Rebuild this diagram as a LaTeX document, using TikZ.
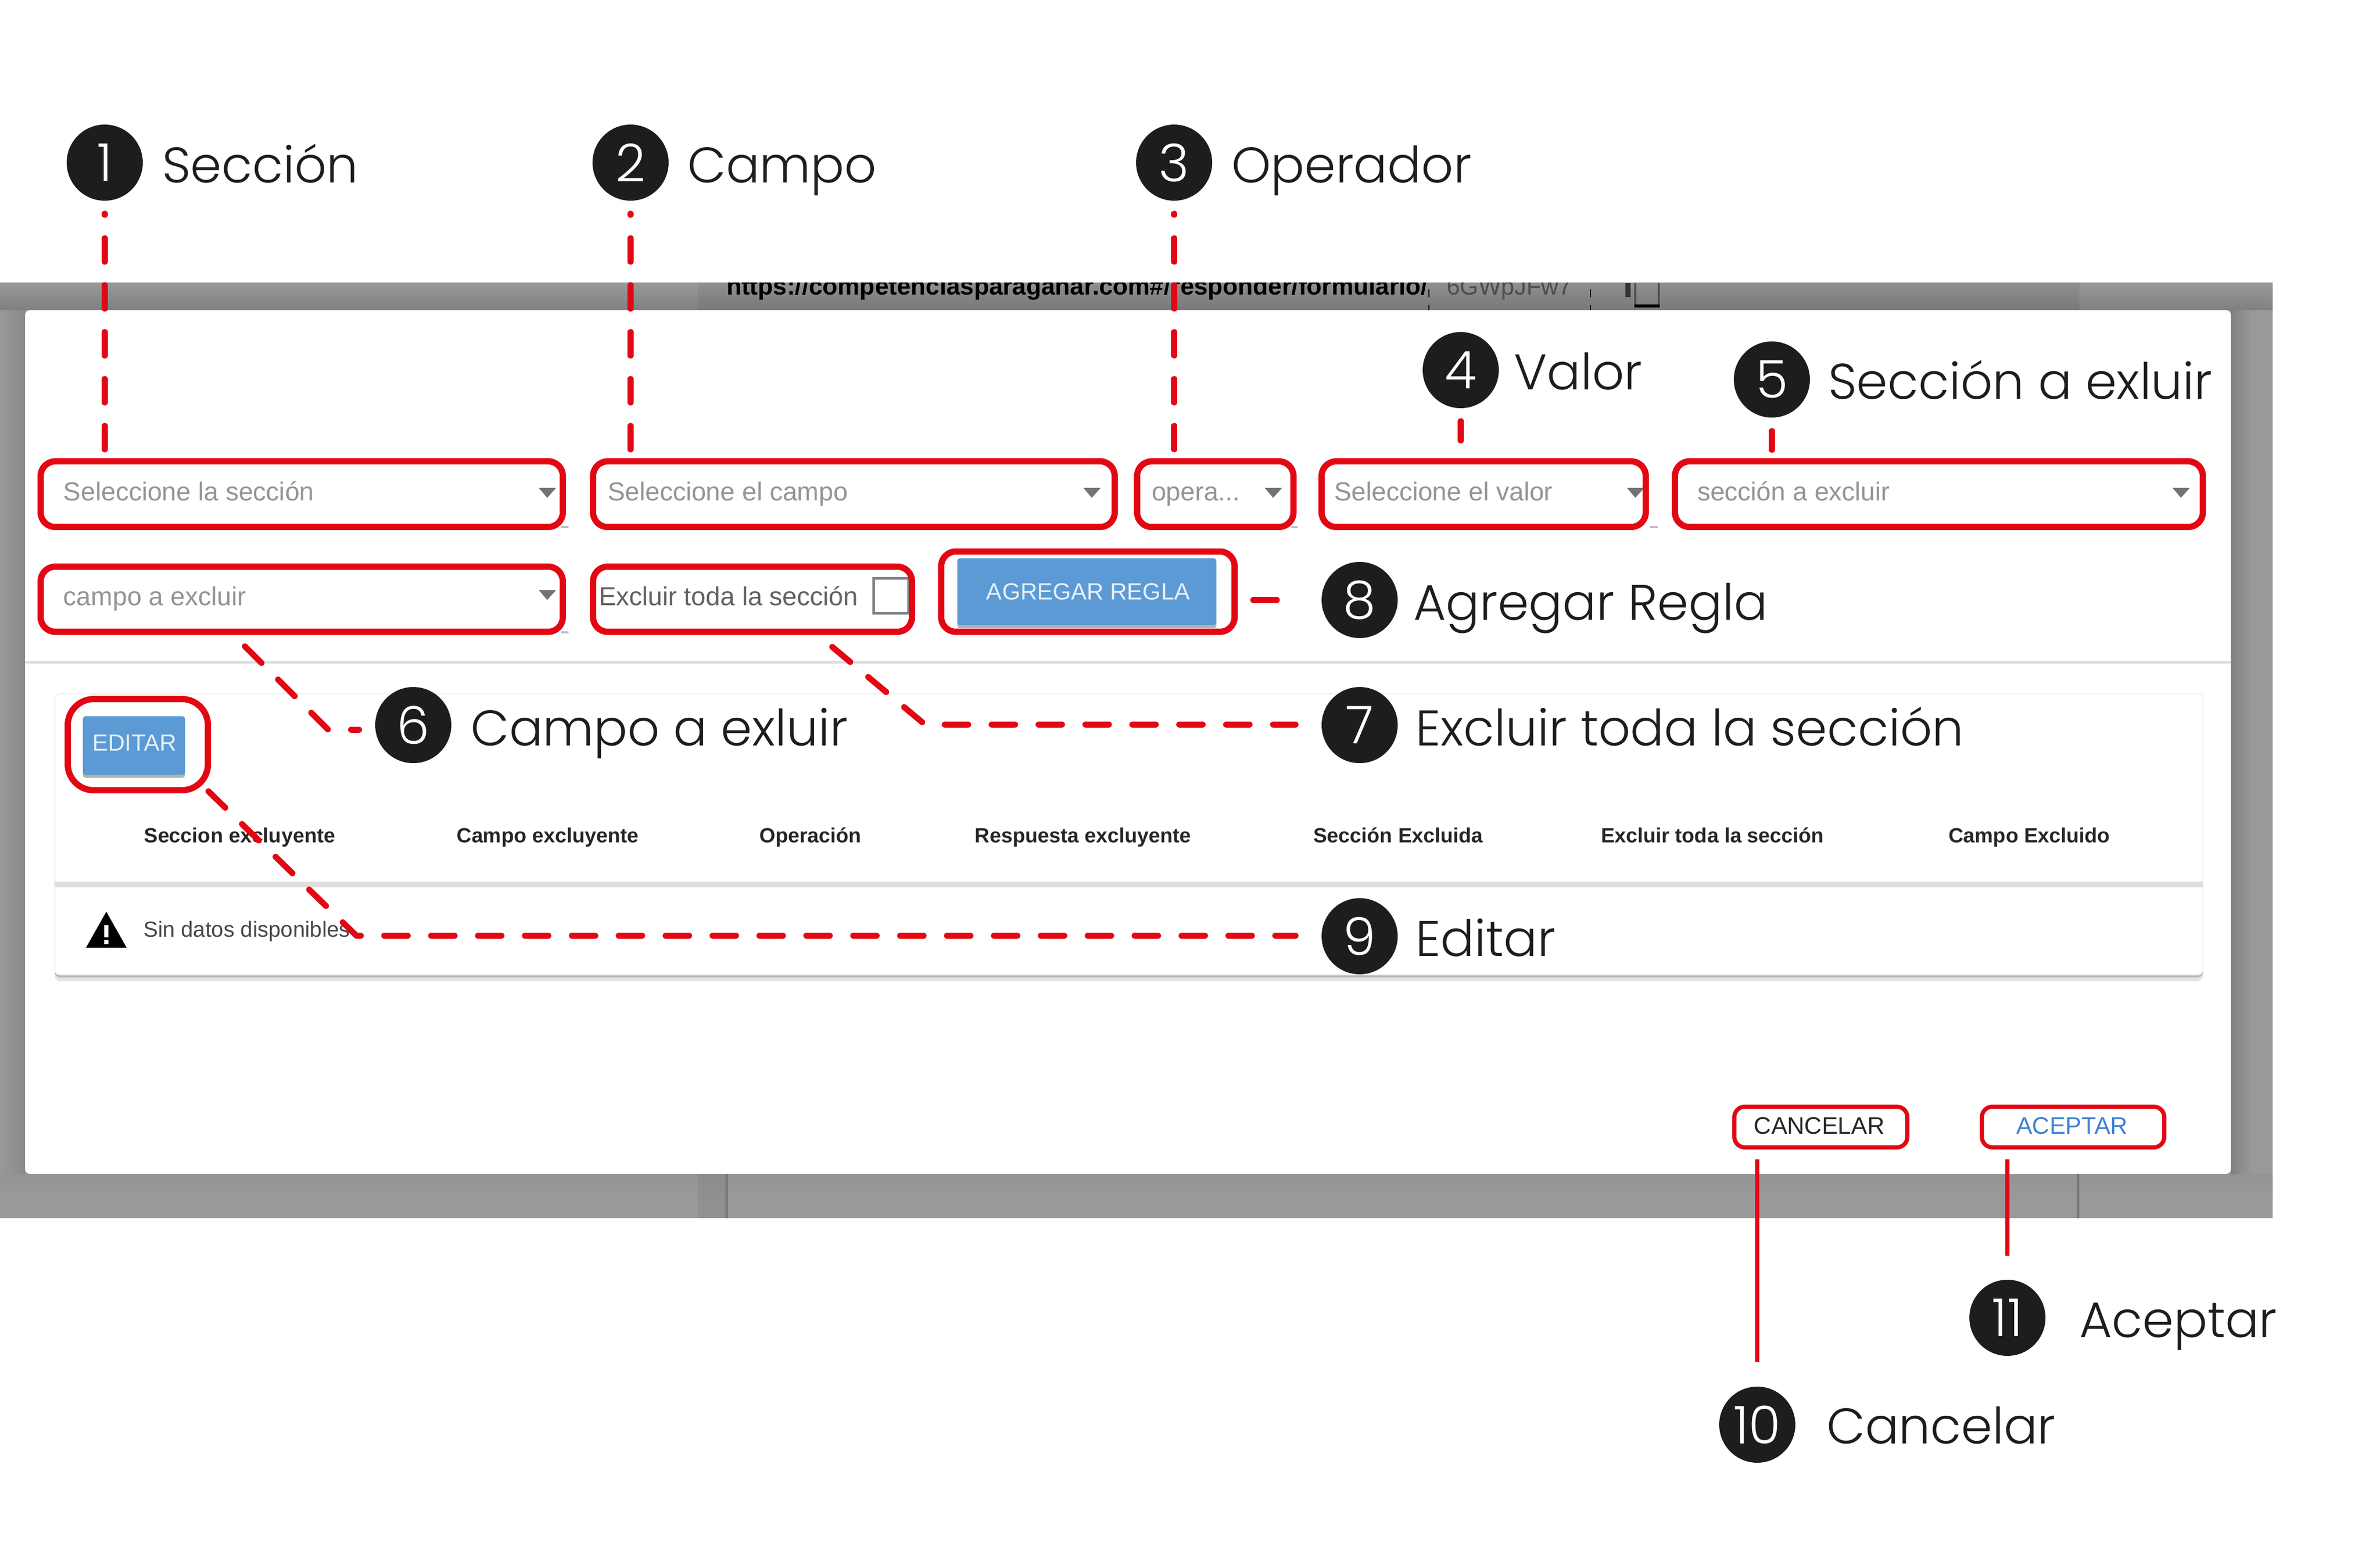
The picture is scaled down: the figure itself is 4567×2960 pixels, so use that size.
\documentclass[tikz,border=0pt]{standalone}
\usepackage{fontspec}
\setmainfont{Liberation Sans}
\newfontfamily\labfont{Poppins Light}
\usetikzlibrary{calc}

\definecolor{callred}{HTML}{E30613}
\definecolor{numdark}{HTML}{1D1D1B}
\definecolor{btnblue}{HTML}{5B9AD4}
\definecolor{linkblue}{HTML}{3C82D2}
\definecolor{backgrey}{HTML}{999999}

\tikzset{
  field/.style 2 args={draw=callred,line width=1.2pt,rounded corners=2.8pt,minimum width=#1pt,minimum height=#2pt,inner sep=0pt},
  smallfield/.style 2 args={draw=callred,line width=0.8pt,rounded corners=2pt,minimum width=#1pt,minimum height=#2pt,inner sep=0pt},
  lead/.style={draw=callred,line width=1.15pt,line cap=round,line join=round,dash pattern=on 4.5pt off 4.5pt},
  solidlead/.style={draw=callred,line width=0.8pt},
  num/.style={circle,fill=numdark,text=white,minimum size=14.6pt,inner sep=0pt,outer sep=0pt,font=\labfont\fontsize{10}{12}\selectfont},
  lab/.style={anchor=base west,inner sep=0pt,text=numdark,font=\labfont\fontsize{9.6}{12}\selectfont},
  hint/.style={anchor=base west,inner sep=0pt,text=black!42,font=\fontsize{5}{6}\selectfont},
  hdr/.style={anchor=base,inner sep=0pt,text=black!85,font=\bfseries\fontsize{3.95}{5}\selectfont},
  btntext/.style={inner sep=0pt,text=white!85!btnblue,font=\fontsize{4.5}{6}\selectfont},
  droparrow/.style={fill=black!55}
}

\begin{document}
\begin{tikzpicture}[x=0.1pt,y=-0.1pt]
  \useasboundingbox (0,0) rectangle (4567,2960);

  \fill[backgrey] (0,543) rectangle (4361,2337);
  \shade[top color=black!42,bottom color=backgrey] (0,2252) rectangle (4361,2295);
  \shade[left color=backgrey,right color=black!46] (0,595) rectangle (48,2252);
  \shade[left color=black!50,right color=backgrey] (4281,595) rectangle (4320,2252);
  \shade[top color=backgrey,bottom color=black!50] (0,543) rectangle (4361,595);

  \fill[black,opacity=0.06] (1339,543) rectangle (3990,595);
  \fill[black,opacity=0.06] (1339,2252) rectangle (1392,2337);
  \fill[black,opacity=0.2] (1392,2252) rectangle (1397,2337);
  \fill[black,opacity=0.2] (3985,2252) rectangle (3990,2337);

  \begin{scope}
    \clip (0,543) rectangle (4361,596);
    \draw (1392,566) node[anchor=base west,inner sep=0pt,font=\bfseries\fontsize{4.75}{6}\selectfont] (url) {https://competenciasparaganar.com\#/responder/formulario/};
    \draw (2774,566) node[anchor=base west,inner sep=0pt,text=black!70,font=\fontsize{4.6}{6}\selectfont] (token) {6GWpJFw7};
    \draw[black,line width=0.2pt,dash pattern=on 1.5pt off 1.5pt] (2742,555) -- (2742,596);
    \draw[black,line width=0.2pt,dash pattern=on 1.5pt off 1.5pt] (3052,555) -- (3052,596);
    \draw[black!80,line width=1pt] (3124,543) -- (3124,570);
    \draw[black!70,line width=0.4pt] (3138,543) -- (3138,588);
    \draw[black!70,line width=0.4pt] (3183,543) -- (3183,588);
    \fill[black] (3136,584) rectangle (3185,590);
  \end{scope}

  \fill[white,rounded corners=1pt] (48,595) rectangle (4281,2252);
  \fill[black!13] (48,1268) rectangle (4281,1273);

  \fill[black!10,rounded corners=1pt] (105,1345) rectangle (4227,1882);
  \fill[black!28,rounded corners=1pt] (105,1340) rectangle (4227,1875);
  \fill[white,draw=black!6,line width=0.2pt,rounded corners=1pt] (105,1331) rectangle (4227,1870);
  \fill[black!13] (105,1691) rectangle (4227,1702);

  \fill[black!25] (1077,1009) rectangle (1091,1013);
  \fill[black!25] (1077,1211) rectangle (1091,1215);
  \fill[black!25] (2478,1009) rectangle (2490,1013);
  \fill[black!25] (3166,1009) rectangle (3181,1013);

  \draw (120,961) node[hint] (hsec) {Seleccione la sección};
  \draw (1164,961) node[hint] (hcam) {Seleccione el campo};
  \draw (2208,961) node[hint] (hope) {opera...};
  \draw (2558,961) node[hint] (hval) {Seleccione el valor};
  \draw (3255,961) node[hint] (hsex) {sección a excluir};
  \draw (120,1162) node[hint] (hcex) {campo a excluir};
  \draw (1147,1162) node[hint,text=black!62] (hexc) {Excluir toda la sección};

  \fill[droparrow] (1034,936) -- (1067,936) -- (1050,955) -- cycle;
  \fill[droparrow] (2079,936) -- (2112,936) -- (2095,955) -- cycle;
  \fill[droparrow] (2427,936) -- (2460,936) -- (2443,955) -- cycle;
  \fill[droparrow] (3122,936) -- (3155,936) -- (3138,955) -- cycle;
  \fill[droparrow] (4169,936) -- (4202,936) -- (4185,955) -- cycle;
  \fill[droparrow] (1034,1132) -- (1067,1132) -- (1050,1151) -- cycle;
  \draw[black!50,line width=0.5pt] (1676,1110) rectangle (1743,1177);

  \fill[black!30,rounded corners=0.5pt] (1837,1075) rectangle (2334,1205);
  \fill[btnblue,rounded corners=0.5pt] (1837,1071) rectangle (2334,1199);
  \draw (2088,1135) node[btntext] (agrtext) {AGREGAR REGLA};
  \fill[black!30,rounded corners=0.5pt] (159,1378) rectangle (355,1492);
  \fill[btnblue,rounded corners=0.5pt] (159,1374) rectangle (355,1486);
  \draw (258,1425) node[btntext] (editext) {EDITAR};

  \draw (460,1616) node[hdr] (h1) {Seccion excluyente};
  \draw (1051,1616) node[hdr] (h2) {Campo excluyente};
  \draw (1555,1616) node[hdr] (h3) {Operación};
  \draw (2078,1616) node[hdr] (h4) {Respuesta excluyente};
  \draw (2683,1616) node[hdr] (h5) {Sección Excluida};
  \draw (3286,1616) node[hdr] (h6) {Excluir toda la sección};
  \draw (3894,1616) node[hdr] (h7) {Campo Excluido};

  \fill[black] (204,1749) -- (243,1818) -- (165,1818) -- cycle;
  \fill[white] (200,1775) rectangle (208,1798);
  \fill[white] (200,1803) rectangle (208,1811);
  \draw (273,1797) node[hint,text=black!72,font=\fontsize{4.2}{5}\selectfont] (nodata) {Sin datos disponibles};

  \draw (3491,2160) node[inner sep=0pt,text=black!85,font=\fontsize{4.6}{6}\selectfont] (cantext) {CANCELAR};
  \draw (3976,2160) node[inner sep=0pt,text=linkblue,font=\fontsize{4.6}{6}\selectfont] (acetext) {ACEPTAR};

  \draw (579,948) node[field={100.2}{12.6}] (sec) {};
  \draw (1638.5,948) node[field={100.1}{12.6}] (cam) {};
  \draw (2332,948) node[field={30}{12.6}] (ope) {};
  \draw (2847,948) node[field={62.2}{12.6}] (val) {};
  \draw (3720.5,948) node[field={101.3}{12.6}] (sex) {};
  \draw (579,1149.5) node[field={100.2}{12.5}] (cex) {};
  \draw (1444,1149.5) node[field={61.2}{12.5}] (exc) {};
  \draw (2087.5,1135) node[field={56.3}{15.4}] (agr) {};
  \draw (264.5,1428.5) node[field={26.9}{17.5},rounded corners=5pt] (edi) {};
  \draw (3494,2162) node[smallfield={33.2}{7.8}] (can) {};
  \draw (3978,2162) node[smallfield={35}{7.8}] (ace) {};

  \draw (201,312) node[num] (n1) {1};
  \draw (1210,312) node[num] (n2) {2};
  \draw (2253,312) node[num] (n3) {3};
  \draw (2803,710) node[num] (n4) {4};
  \draw (3400,728) node[num] (n5) {5};
  \draw (793,1391) node[num] (n6) {6};
  \draw (2609,1391) node[num] (n7) {7};
  \draw (2609,1151) node[num] (n8) {8};
  \draw (2609,1796) node[num] (n9) {9};
  \draw (3372,2733) node[num] (n10) {10};
  \draw (3852,2528) node[num] (n11) {11};

  \draw (309,351) node[lab] (t1) {Sección};
  \draw (1317,351) node[lab] (t2) {Campo};
  \draw (2361,351) node[lab] (t3) {Operador};
  \draw (2903,748) node[lab] (t4) {Valor};
  \draw (3506,766) node[lab] (t5) {Sección a exluir};
  \draw (901,1430) node[lab] (t6) {Campo a exluir};
  \draw (2714,1430) node[lab] (t7) {Excluir toda la sección};
  \draw (2710,1189) node[lab] (t8) {Agregar Regla};
  \draw (2714,1834) node[lab] (t9) {Editar};
  \draw (3503,2769) node[lab] (t10) {Cancelar};
  \draw (3988,2565) node[lab] (t11) {Aceptar};

  \coordinate (c6) at (470,1240);
  \coordinate (k6) at (630,1400);
  \coordinate (c7) at (1597,1241);
  \coordinate (k7) at (1775,1390);
  \coordinate (c9) at (400,1518);
  \coordinate (k9) at (684,1795);

  \draw[lead,shorten <=1.7pt,shorten >=2.5pt] (n1.south |- sec.north) -- (n1.south);
  \draw[lead,shorten <=1.7pt,shorten >=2.5pt] (n2.south |- cam.north) -- (n2.south);
  \draw[lead,shorten <=1.7pt,shorten >=2.5pt] (n3.south |- ope.north) -- (n3.south);
  \draw[lead,shorten <=3.4pt,shorten >=2.5pt] (n4.south |- val.north) -- (n4.south);
  \draw[lead,shorten <=1.6pt,shorten >=2.6pt] (n5.south |- sex.north) -- (n5.south);
  \draw[lead,shorten >=3.1pt] (c6) -- (k6) -- (k6 -| n6.west);
  \draw[lead,shorten >=5pt] (c7) -- (k7) -- (k7 -| n7.west);
  \draw[lead,shorten <=3pt,shorten >=8.5pt] (n8.west -| agr.east) -- (n8.west);
  \draw[lead,shorten >=5pt] (c9) -- (k9) -- (k9 -| n9.west);
  \draw[solidlead,shorten <=1.9pt,shorten >=4.7pt] (n10.north |- can.south) -- (n10.north);
  \draw[solidlead,shorten <=1.9pt,shorten >=4.6pt] (n11.north |- ace.south) -- (n11.north);
\end{tikzpicture}
\end{document}
